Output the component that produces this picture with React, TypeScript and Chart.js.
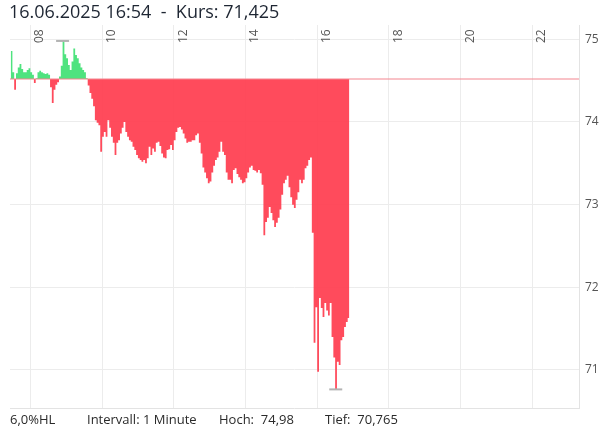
import React, { useEffect, useRef } from "react";
import { Chart, registerables } from "chart.js";

Chart.register(...registerables);

// ---- data ----
const TITLE_DATE = "16.06.2025 16:54";
const LAST_PRICE_LABEL = "71,425";
const START_TIME = "07:27";
const STEP_MINUTES = 3;
const PREV_CLOSE = 74.52;
const X_RANGE = ["07:26", "23:18"];
const HOUR_TICKS = [8, 10, 12, 14, 16, 18, 20, 22];
const Y_TICKS = [71, 72, 73, 74, 75];
const Y_RANGE = [70.54, 75.173];
const HIGH_MARK = { time: "08:54", value: 74.98 };
const LOW_MARK = { time: "16:31", value: 70.765 };
const FOOTER_ITEMS = ["6,0%HL", "Intervall: 1 Minute", "Hoch:  74,98", "Tief:  70,765"];

const PRICES = [
  74.86, 74.60, 74.39, 74.59, 74.66, 74.70, 74.64, 74.60, 74.60, 74.63,
  74.65, 74.60, 74.57, 74.47, 74.53, 74.60, 74.62, 74.60, 74.59, 74.58,
  74.59, 74.57, 74.42, 74.23, 74.39, 74.45, 74.48, 74.55, 74.68, 74.98,
  74.82, 74.77, 74.69, 74.63, 74.73, 74.89, 74.81, 74.77, 74.71, 74.66,
  74.63, 74.60, 74.53, 74.44, 74.35, 74.28, 74.19, 74.02, 73.99, 73.96,
  73.64, 73.82, 73.88, 73.82, 74.02, 73.93, 73.82, 73.75, 73.60, 73.75,
  73.78, 73.86, 73.93, 74.00, 73.88, 73.82, 73.78, 73.76, 73.70, 73.66,
  73.60, 73.56, 73.54, 73.52, 73.54, 73.50, 73.56, 73.70, 73.60, 73.68,
  73.64, 73.75, 73.76, 73.71, 73.62, 73.57, 73.56, 73.66, 73.67, 73.72,
  73.66, 73.78, 73.88, 73.93, 73.94, 73.91, 73.86, 73.80, 73.75, 73.76,
  73.76, 73.78, 73.78, 73.84, 73.86, 73.75, 73.62, 73.45, 73.39, 73.32,
  73.26, 73.28, 73.39, 73.47, 73.54, 73.57, 73.64, 73.76, 73.64, 73.60,
  73.39, 73.30, 73.30, 73.26, 73.42, 73.44, 73.37, 73.33, 73.30, 73.26,
  73.27, 73.32, 73.39, 73.45, 73.47, 73.42, 73.41, 73.39, 73.42, 73.38,
  73.24, 72.63, 72.79, 72.84, 72.97, 72.90, 72.81, 72.73, 72.78, 72.84,
  72.94, 73.12, 73.26, 73.30, 73.35, 73.21, 73.09, 73.00, 72.96, 73.06,
  73.15, 73.30, 73.26, 73.30, 73.44, 73.47, 73.54, 73.57, 72.66, 71.33,
  71.76, 70.98, 71.87, 71.75, 71.64, 71.81, 71.72, 71.66, 71.81, 71.40,
  71.15, 70.765, 71.10, 71.06, 71.36, 71.40, 71.52, 71.58, 71.63, 71.425,
];

const toMin = (s: string) => {
  const [h, m] = s.split(":").map(Number);
  return h * 60 + m;
};

const FONT = '"Open Sans", "Noto Sans", sans-serif';

export default function App() {
  const ref = useRef<HTMLCanvasElement>(null);

  useEffect(() => {
    if (!ref.current) return;
    const start = toMin(START_TIME);
    const xMin = toMin(X_RANGE[0]);
    const xMax = toMin(X_RANGE[1]);
    const series = PRICES.map((p, i) => ({ x: start + i * STEP_MINUTES, y: p }));
    const markers = [
      { x: toMin(HIGH_MARK.time), y: HIGH_MARK.value },
      { x: toMin(LOW_MARK.time), y: LOW_MARK.value },
    ];

    const overlay = {
      id: "overlay",
      afterDraw(chart: any) {
        const { ctx, chartArea, scales } = chart;
        ctx.save();
        ctx.strokeStyle = "#e3e3e3";
        ctx.lineWidth = 1;
        ctx.beginPath();
        ctx.moveTo(chartArea.left, Math.round(chartArea.bottom) + 0.5);
        ctx.lineTo(chartArea.right, Math.round(chartArea.bottom) + 0.5);
        ctx.stroke();
        ctx.fillStyle = "#555";
        ctx.font = `12px ${FONT}`;
        ctx.textAlign = "left";
        ctx.textBaseline = "alphabetic";
        HOUR_TICKS.forEach((h) => {
          const x = scales.x.getPixelForValue(h * 60);
          ctx.save();
          ctx.translate(x + 13, 43);
          ctx.rotate(-Math.PI / 2);
          ctx.fillText(String(h).padStart(2, "0"), 0, 0);
          ctx.restore();
        });
        ctx.restore();
      },
    };

    const chart = new Chart(ref.current, {
      type: "line",
      data: {
        datasets: [
          {
            data: [
              { x: xMin, y: PREV_CLOSE },
              { x: xMax, y: PREV_CLOSE },
            ],
            borderColor: "#f3868f",
            borderWidth: 1.2,
            pointRadius: 0,
            fill: false,
            order: 0,
          },
          {
            data: markers,
            showLine: false,
            pointStyle: "line",
            pointRadius: 6.5,
            pointBorderColor: "#b3b3b3",
            pointBorderWidth: 2,
            borderColor: "#b3b3b3",
            order: 1,
          },
          {
            data: series,
            stepped: true,
            borderWidth: 0,
            pointRadius: 0,
            fill: {
              target: { value: PREV_CLOSE },
              above: "rgba(72,226,122,0.96)",
              below: "rgba(255,60,78,0.92)",
            },
            order: 2,
          },
        ],
      } as any,
      options: {
        responsive: false,
        animation: false,
        devicePixelRatio: 1,
        layout: { padding: { top: 25, left: 10, right: 0, bottom: 24 } },
        plugins: { legend: { display: false }, tooltip: { enabled: false } },
        scales: {
          x: {
            type: "linear",
            position: "top",
            min: xMin,
            max: xMax,
            grid: { color: "#ececec", drawTicks: false },
            border: { display: false },
            ticks: { display: false },
            afterBuildTicks: (s: any) => {
              s.ticks = HOUR_TICKS.map((h) => ({ value: h * 60 }));
            },
            afterFit: (s: any) => {
              s.height = 0;
            },
          },
          y: {
            position: "right",
            min: Y_RANGE[0],
            max: Y_RANGE[1],
            grid: { color: "#ececec", drawTicks: false },
            border: { display: true, color: "#e3e3e3" },
            ticks: { color: "#555", font: { family: FONT, size: 12 }, padding: 6 },
            afterBuildTicks: (s: any) => {
              s.ticks = Y_TICKS.map((v) => ({ value: v }));
            },
            afterFit: (s: any) => {
              s.width = 30;
            },
          },
        },
      } as any,
      plugins: [overlay],
    });
    return () => chart.destroy();
  }, []);

  const footerLeft = [10, 87, 219, 325];

  return (
    <div
      style={{
        position: "fixed",
        left: 0,
        top: 0,
        width: 609,
        height: 432,
        background: "#fff",
        fontFamily: FONT,
        overflow: "hidden",
      }}
    >
      <canvas ref={ref} width={609} height={432} style={{ position: "absolute", left: 0, top: 0, width: 609, height: 432 }} />
      <div
        style={{
          position: "absolute",
          left: 9,
          top: 2,
          fontSize: 18,
          lineHeight: "18px",
          color: "#1e2633",
          whiteSpace: "pre",
        }}
      >
        {`${TITLE_DATE}  -  Kurs: ${LAST_PRICE_LABEL}`}
      </div>
      {FOOTER_ITEMS.map((t, i) => (
        <div
          key={i}
          style={{
            position: "absolute",
            left: footerLeft[i],
            top: 413,
            fontSize: 13,
            lineHeight: "13px",
            color: "#2a2a2a",
            whiteSpace: "pre",
          }}
        >
          {t}
        </div>
      ))}
    </div>
  );
}
